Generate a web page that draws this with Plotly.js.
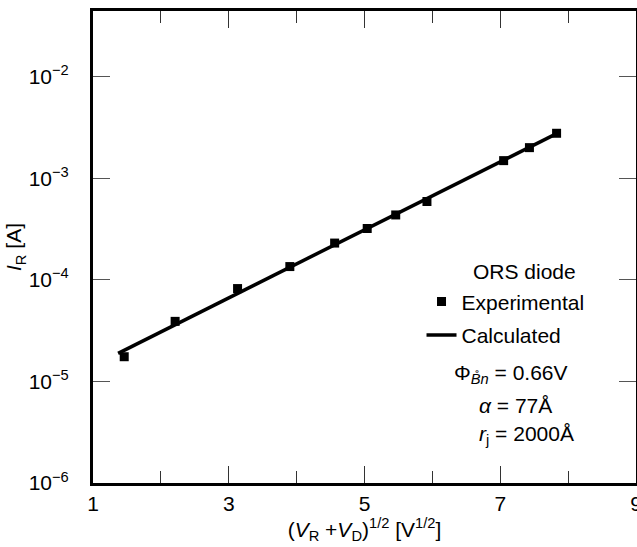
<!DOCTYPE html>
<html>
<head>
<meta charset="utf-8">
<script src="https://cdn.plot.ly/plotly-3.0.1.min.js"></script>
<style>html,body{margin:0;padding:0;background:#fff;}#chart{width:637px;height:547px;}</style>
</head>
<body>
<div id="chart"></div>
<script>
// Experimental data: (V_R + V_D)^1/2 [V^1/2] vs I_R [A]
const expX = [1.46, 2.21, 3.13, 3.90, 4.56, 5.04, 5.46, 5.92, 7.05, 7.43, 7.83];
const expY = [1.75e-5, 3.9e-5, 8.2e-5, 1.35e-4, 2.3e-4, 3.2e-4, 4.35e-4, 5.9e-4, 1.49e-3, 2.0e-3, 2.77e-3];
// Calculated curve (straight line on semi-log plot)
const calcX = [1.37, 7.83];
const calcY = [1.89e-5, 2.75e-3];
// Axis ticks
const xTickVals = [1, 3, 5, 7, 9];
const yTickVals = [1e-6, 1e-5, 1e-4, 1e-3, 1e-2];
const yTickText = ['10<sup>−6</sup>', '10<sup>−5</sup>', '10<sup>−4</sup>', '10<sup>−3</sup>', '10<sup>−2</sup>'];

const FONT = 'Liberation Sans, Arial, Helvetica, sans-serif';
const FS = 21;

const traces = [
  {x: expX, y: expY, type: 'scatter', mode: 'markers', name: 'Experimental', legendgroup: 'exp',
   marker: {symbol: 'square', size: 9, color: '#000'}},
  {x: calcX, y: calcY, type: 'scatter', mode: 'lines', name: 'Calculated', legendgroup: 'calc',
   line: {color: '#000', width: 3.5}}
];

const layout = {
  width: 637, height: 547,
  margin: {l: 93, r: 1, t: 11, b: 64},
  paper_bgcolor: '#fff', plot_bgcolor: '#fff',
  font: {family: FONT, size: FS, color: '#000'},
  showlegend: true,
  legend: {
    x: 0.605, y: 0.427, xanchor: 'left', yanchor: 'top',
    bgcolor: 'rgba(0,0,0,0)', borderwidth: 0,
    font: {family: FONT, size: FS, color: '#000'},
    tracegroupgap: 3, itemwidth: 30
  },
  xaxis: {
    range: [1, 9], tickvals: xTickVals, ticktext: xTickVals.map(String),
    ticks: 'inside', ticklen: 17, tickwidth: 1.2, tickcolor: '#333',
    ticklabeloverflow: 'allow',
    minor: {dtick: 1, tick0: 0, ticks: 'inside', ticklen: 12, tickwidth: 1.2, tickcolor: '#333'},
    showline: true, linewidth: 3, linecolor: '#000', mirror: 'ticks',
    showgrid: false, zeroline: false,
    tickfont: {family: FONT, size: FS, color: '#000'},
    title: {text: '(<i>V</i><sub>R</sub> +<i>V</i><sub>D</sub>)<sup>1/2</sup> [V<sup>1/2</sup>]',
            font: {family: FONT, size: FS, color: '#000'}, standoff: 6}
  },
  yaxis: {
    type: 'log', range: [-6, -1.354], tickvals: yTickVals, ticktext: yTickText,
    ticks: 'inside', ticklen: 17, tickwidth: 1.2, tickcolor: '#555',
    ticklabelstandoff: 17,
    showline: true, linewidth: 3, linecolor: '#000', mirror: 'ticks',
    showgrid: false, zeroline: false,
    tickfont: {family: FONT, size: FS, color: '#000'},
    title: {text: '<i>I</i><sub>R</sub> [A]', font: {family: FONT, size: FS, color: '#000'}, standoff: 0}
  },
  annotations: [
    {xref: 'paper', yref: 'paper', x: 0.795, y: 0.4475, xanchor: 'center', yanchor: 'middle', showarrow: false,
     text: 'ORS diode', font: {family: FONT, size: FS, color: '#000'}},
    {xref: 'paper', yref: 'paper', x: 0.662, y: 0.231, xanchor: 'left', yanchor: 'middle', showarrow: false,
     text: 'Φ<sub><i>B̊n</i></sub> = 0.66V', font: {family: FONT, size: FS, color: '#000'}},
    {xref: 'paper', yref: 'paper', x: 0.7066, y: 0.165, xanchor: 'left', yanchor: 'middle', showarrow: false,
     text: '<i>α</i> = 77Å', font: {family: FONT, size: FS, color: '#000'}},
    {xref: 'paper', yref: 'paper', x: 0.707, y: 0.1017, xanchor: 'left', yanchor: 'middle', showarrow: false,
     text: '<i>r</i><sub>j</sub> = 2000Å', font: {family: FONT, size: FS, color: '#000'}}
  ]
};

Plotly.newPlot('chart', traces, layout, {displayModeBar: false, staticPlot: true});
</script>
</body>
</html>
